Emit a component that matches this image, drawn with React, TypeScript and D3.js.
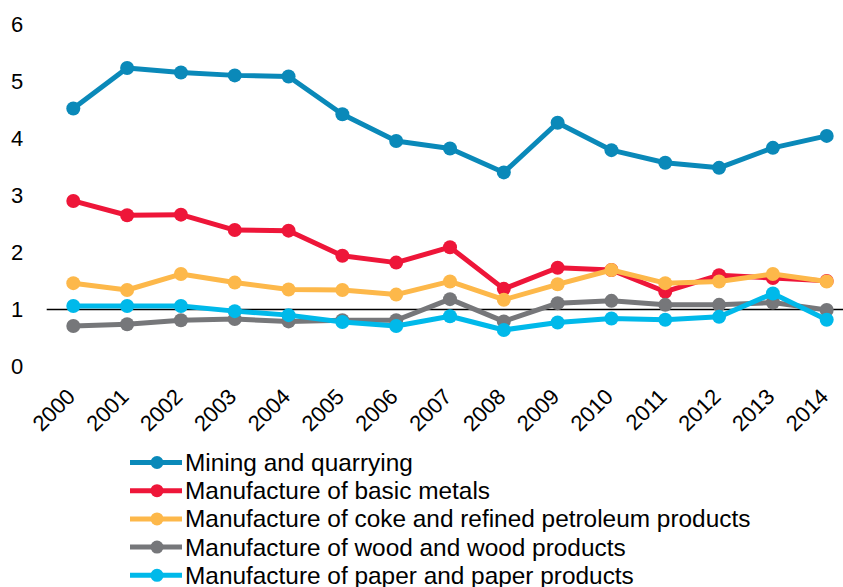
import React, { useEffect } from "react";
import * as d3 from "d3";

const years = ["2000","2001","2002","2003","2004","2005","2006","2007","2008","2009","2010","2011","2012","2013","2014"];
const yTicks = [0, 1, 2, 3, 4, 5, 6];

const mining = [4.52, 5.23, 5.15, 5.10, 5.08, 4.42, 3.95, 3.82, 3.40, 4.27, 3.79, 3.57, 3.48, 3.83, 4.04];
const basicMetals = [2.90, 2.65, 2.66, 2.39, 2.38, 1.94, 1.82, 2.09, 1.36, 1.73, 1.69, 1.31, 1.60, 1.55, 1.50];
const coke = [1.46, 1.34, 1.62, 1.47, 1.35, 1.34, 1.26, 1.49, 1.17, 1.44, 1.69, 1.46, 1.49, 1.62, 1.49];
const wood = [0.71, 0.74, 0.81, 0.83, 0.79, 0.81, 0.81, 1.18, 0.79, 1.11, 1.15, 1.08, 1.08, 1.12, 0.99];
const paper = [1.06, 1.06, 1.06, 0.97, 0.90, 0.78, 0.71, 0.88, 0.64, 0.77, 0.84, 0.82, 0.87, 1.28, 0.82];

const seriesNames = [
  "Mining and quarrying",
  "Manufacture of basic metals",
  "Manufacture of coke and refined petroleum products",
  "Manufacture of wood and wood products",
  "Manufacture of paper and paper products",
];
const seriesValues = [mining, basicMetals, coke, wood, paper];
const seriesColors = ["#0A89B9", "#EE1639", "#FDB84A", "#76777A", "#00B9EA"];

const W = 843;
const H = 587;
const FONT = "'Liberation Sans', Arial, Helvetica, sans-serif";

export default function App() {
  useEffect(() => {
    document.body.style.margin = "0";
  }, []);

  const x = d3.scalePoint<string>().domain(years).range([73.3, 826.7]);
  const y = d3.scaleLinear().domain([0, 6]).range([366.5, 24]);
  const line = d3
    .line<number>()
    .x((_, i) => x(years[i]) as number)
    .y((d) => y(d));

  const legendX0 = 130;
  const legendX1 = 182;
  const legendY0 = 462.5;
  const legendStep = 28.2;

  return (
    <svg width={W} height={H} style={{ display: "block", position: "absolute", left: 0, top: 0 }} fontFamily={FONT}>
      <rect width={W} height={H} fill="#ffffff" />
      {yTicks.map((t) => (
        <text key={t} x={11} y={y(t)} dy="0.35em" fontSize={22} fill="#000">
          {t}
        </text>
      ))}
      <line x1={46.7} x2={W} y1={y(1)} y2={y(1)} stroke="#000" strokeWidth={1.5} />
      {seriesValues.map((vals, si) => (
        <g key={si}>
          <path d={line(vals) || ""} fill="none" stroke={seriesColors[si]} strokeWidth={5} strokeLinejoin="round" />
          {vals.map((v, i) => (
            <circle key={i} cx={x(years[i]) as number} cy={y(v)} r={7} fill={seriesColors[si]} />
          ))}
        </g>
      ))}
      {years.map((yr) => (
        <text
          key={yr}
          transform={`translate(${(x(yr) as number) + 3},${398}) rotate(-45)`}
          textAnchor="end"
          fontSize={22}
          fill="#000"
        >
          {yr}
        </text>
      ))}
      {seriesNames.map((name, si) => {
        const cy = legendY0 + si * legendStep;
        return (
          <g key={name}>
            <line x1={legendX0} x2={legendX1} y1={cy} y2={cy} stroke={seriesColors[si]} strokeWidth={5} />
            <circle cx={(legendX0 + legendX1) / 2 + 1} cy={cy} r={6.5} fill={seriesColors[si]} />
            <text x={185} y={cy + 8.5} fontSize={24.4} fill="#000">
              {name}
            </text>
          </g>
        );
      })}
    </svg>
  );
}
